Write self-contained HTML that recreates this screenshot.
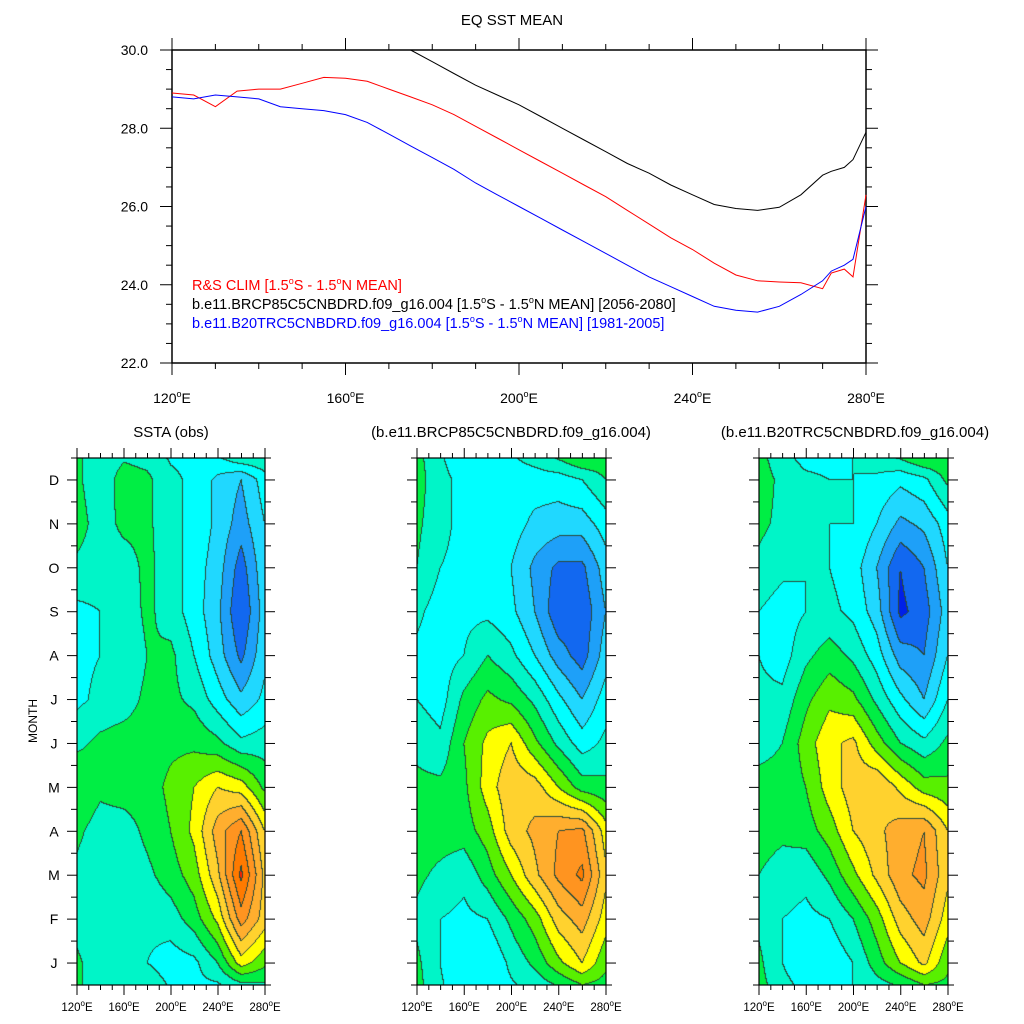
<!DOCTYPE html>
<html><head><meta charset="utf-8">
<style>
body{margin:0;background:#fff;}
#root{position:relative;width:1024px;height:1024px;overflow:hidden;font-family:"Liberation Sans",sans-serif;}
canvas{position:absolute;}
svg{position:absolute;left:0;top:0;}
</style></head>
<body>
<div id="root">
<canvas id="c0" style="left:77px;top:458px" width="188" height="527"></canvas>
<canvas id="c1" style="left:417px;top:458px" width="189" height="527"></canvas>
<canvas id="c2" style="left:759px;top:458px" width="189" height="527"></canvas>
<svg id="svg" width="1024" height="1024"></svg>
</div>
<script>
// ---- Top line chart data ----
const lons = [120,125,130,135,140,145,150,155,160,165,170,175,180,185,190,195,200,205,210,215,220,225,230,235,240,245,250,255,260,265,270,272,275,277,280];
const redSST = [28.9,28.85,28.55,28.95,29.0,29.0,29.15,29.3,29.28,29.2,29.0,28.8,28.6,28.35,28.05,27.75,27.45,27.15,26.85,26.55,26.25,25.9,25.55,25.2,24.9,24.55,24.25,24.1,24.07,24.05,23.9,24.3,24.4,24.2,26.3];
const blueSST = [28.8,28.75,28.85,28.8,28.75,28.55,28.5,28.45,28.35,28.15,27.85,27.55,27.25,26.95,26.6,26.3,26.0,25.7,25.4,25.1,24.8,24.5,24.2,23.95,23.7,23.45,23.35,23.3,23.45,23.75,24.1,24.35,24.5,24.65,26.0];
const blackSST = [null,null,null,null,null,null,null,null,null,null,null,30.03,29.7,29.4,29.1,28.85,28.6,28.3,28.0,27.7,27.4,27.1,26.85,26.55,26.3,26.05,25.95,25.9,25.98,26.3,26.8,26.9,27.0,27.2,27.9];
const yTicks = ["22.0","24.0","26.0","28.0","30.0"];
const xTickLons = [120,160,200,240,280];
const months = ["J","F","M","A","M","J","J","A","S","O","N","D"];
const gridLons = [120,140,160,180,200,220,240,260,280];
// rows Jan..Dec
const obsSSTA = [
[0.1,-0.3,-0.3,-0.4,-0.6,-0.5,0.0,1.0,0.5],
[-0.2,-0.3,-0.3,-0.3,-0.2,0.2,0.9,2.2,1.4],
[-0.1,-0.3,-0.3,-0.1,0.2,0.6,1.5,2.9,1.5],
[0.1,-0.2,-0.2,0.1,0.4,0.9,1.8,2.4,1.2],
[0.4,0.1,0.2,0.2,0.5,0.8,1.2,1.0,0.3],
[-0.1,0.1,0.2,0.2,0.3,0.3,0.1,-0.3,-0.2],
[-0.5,-0.3,-0.2,0.1,0.1,-0.1,-0.6,-1.1,-0.7],
[-0.5,-0.4,-0.4,0.0,0.1,-0.4,-1.0,-1.7,-0.9],
[-0.5,-0.4,-0.3,0.1,-0.2,-0.6,-1.1,-2.0,-1.0],
[-0.1,-0.2,-0.2,0.1,-0.2,-0.6,-1.0,-1.8,-0.9],
[0.2,-0.2,0.1,0.1,-0.3,-0.5,-0.9,-1.4,-0.8],
[0.1,-0.3,0.2,0.1,-0.3,-0.5,-0.9,-1.2,-0.6]];
const rcpSSTA = [
[0.1,-0.4,-0.8,-0.8,-0.3,0.1,0.7,1.2,0.5],
[-0.1,-0.4,-0.5,-0.4,0.1,0.6,1.4,1.8,1.0],
[0.1,-0.1,-0.3,0.2,0.8,1.5,2.1,2.5,1.3],
[0.2,0.2,0.2,0.6,1.4,1.7,2.0,2.1,1.0],
[0.1,0.1,0.3,1.0,1.5,1.4,0.8,0.2,0.1],
[-0.1,-0.3,0.4,0.9,1.2,0.5,-0.1,-0.6,-0.3],
[-0.4,-0.6,0.1,0.5,0.3,-0.1,-0.7,-1.2,-0.6],
[-0.5,-0.6,-0.4,0.0,-0.3,-0.8,-1.4,-1.8,-1.0],
[-0.3,-0.6,-0.5,-0.5,-0.7,-1.2,-1.9,-1.9,-1.2],
[0.0,-0.4,-0.5,-0.6,-0.8,-1.3,-1.7,-1.7,-1.0],
[0.1,-0.3,-0.5,-0.6,-0.6,-0.9,-1.0,-1.0,-0.6],
[0.2,-0.3,-0.5,-0.6,-0.6,-0.6,-0.6,-0.4,0.0]];
const histSSTA = [
[0.1,-0.4,-0.8,-0.7,-0.4,0.2,0.8,1.3,0.5],
[-0.1,-0.4,-0.5,-0.4,0.0,0.6,1.4,1.8,1.0],
[0.0,-0.2,-0.3,0.1,0.7,1.3,1.9,2.1,1.3],
[0.2,0.1,0.2,0.6,1.2,1.5,1.8,2.0,1.2],
[0.1,0.1,0.4,1.0,1.4,1.6,1.1,0.6,0.5],
[-0.1,0.0,0.6,1.1,1.3,0.6,0.0,-0.3,0.1],
[-0.3,-0.3,0.3,0.7,0.5,-0.1,-0.7,-1.2,-0.4],
[-0.4,-0.6,-0.1,0.2,-0.1,-0.6,-1.4,-1.6,-0.8],
[-0.4,-0.6,-0.4,-0.3,-0.5,-1.0,-2.1,-1.8,-1.0],
[-0.1,-0.3,-0.4,-0.4,-0.6,-1.2,-2.0,-1.6,-0.8],
[0.1,-0.1,-0.3,-0.4,-0.4,-0.8,-1.3,-1.1,-0.6],
[0.2,-0.1,-0.3,-0.4,-0.4,-0.5,-0.7,-0.5,0.1]];

const NS="http://www.w3.org/2000/svg";
const svg=document.getElementById('svg');
function mk(tag,attrs,parent){const e=document.createElementNS(NS,tag);for(const k in attrs)e.setAttribute(k,attrs[k]);(parent||svg).appendChild(e);return e;}
function txt(x,y,s,size,anchor,color,name){const t=mk('text',{x:x,y:y,'font-size':size,'text-anchor':anchor||'middle',fill:color||'#000'});t.innerHTML=s;return t;}
const deg='<tspan dy="-6" font-size="9">o</tspan><tspan dy="6">E</tspan>';
const degS='<tspan dy="-5" font-size="8">o</tspan><tspan dy="5">E</tspan>';

// ---- top chart ----
const L=172,R=866,T=50,B=363;
const xs=v=>L+(v-120)/160*(R-L);
const ys=v=>B-(v-22)/8*(B-T);
txt(512,25,"EQ SST MEAN",15,'middle','#000','top-title');
const fr=mk('rect',{x:L,y:T,width:R-L,height:B-T,fill:'none',stroke:'#000','stroke-width':1.5});

for(let v=22;v<=30.001;v+=0.5){const maj=Math.abs(v%2)<0.01;const y=ys(v);const len=maj?12:6;
 mk('line',{x1:L-len,y1:y,x2:L,y2:y,stroke:'#000','stroke-width':1});
 mk('line',{x1:R,y1:y,x2:R+len,y2:y,stroke:'#000','stroke-width':1});}
yTicks.forEach(s=>txt(L-24,ys(parseFloat(s))+5,s,14,'end','#000','y-tick-label'));
for(let v=120;v<=280;v+=10){const maj=v%40===0;const x=xs(v);const len=maj?12:6;
 mk('line',{x1:x,y1:B,x2:x,y2:B+len,stroke:'#000','stroke-width':1});
 mk('line',{x1:x,y1:T-len,x2:x,y2:T,stroke:'#000','stroke-width':1});}
xTickLons.forEach(v=>txt(xs(v),403,v+deg,14,'middle','#000','x-tick-label'));
function line(arr,color,name){let d='';let pen=false;arr.forEach((v,i)=>{if(v===null){pen=false;return;}const y=Math.max(T,ys(v));d+=(pen?'L':'M')+xs(lons[i]).toFixed(1)+','+y.toFixed(1);pen=true;});
 const p=mk('path',{d:d,fill:'none',stroke:color,'stroke-width':1});}
line(blackSST,'#000','rcp85-line');line(redSST,'#ff0000','obs-clim-line');line(blueSST,'#0000ff','b20tr-line');
const sup='<tspan dy="-6" font-size="9">o</tspan><tspan dy="6">';
txt(192,290,'R&amp;S CLIM [1.5'+sup+'S - 1.5</tspan>'+sup+'N MEAN]</tspan>',14.5,'start','#ff0000','legend-obs');
txt(192,309,'b.e11.BRCP85C5CNBDRD.f09_g16.004 [1.5'+sup+'S - 1.5</tspan>'+sup+'N MEAN] [2056-2080]</tspan>',14.5,'start','#000','legend-rcp85');
txt(192,328,'b.e11.B20TRC5CNBDRD.f09_g16.004 [1.5'+sup+'S - 1.5</tspan>'+sup+'N MEAN] [1981-2005]</tspan>',14.5,'start','#0000ff','legend-b20tr');

// ---- heatmaps ----
const levels=[-2.0,-1.6,-1.2,-0.8,-0.4,0,0.4,0.8,1.2,1.6,2.0,2.4,2.8];
const cols=['#0020e8','#1268f0','#1ea0f8','#20d8ff','#00ffff','#00f5c8','#00ee44','#58f000','#ffff00','#ffd22e','#ffae2e','#ff9420','#ff7a00','#ff2000'];
function levelOf(v){let i=0;while(i<levels.length&&v>=levels[i])i++;return i;}
function sample(g,lon,mf){let c=(lon-120)/20;c=Math.max(0,Math.min(8,c));const c0=Math.min(7,Math.floor(c)),cf=c-c0;
 let m0=Math.floor(mf);const f=mf-m0;const a=((m0%12)+12)%12,b=(a+1)%12;
 const va=g[a][c0]*(1-cf)+g[a][c0+1]*cf,vb=g[b][c0]*(1-cf)+g[b][c0+1]*cf;return va*(1-f)+vb*f;}
const panels=[{g:obsSSTA,c:'c0',L:77,W:188,title:'SSTA (obs)',tx:171,name:'obs'},
 {g:rcpSSTA,c:'c1',L:417,W:189,title:'(b.e11.BRCP85C5CNBDRD.f09_g16.004)',tx:511,name:'rcp85'},
 {g:histSSTA,c:'c2',L:759,W:189,title:'(b.e11.B20TRC5CNBDRD.f09_g16.004)',tx:855,name:'b20tr'}];
const PT=458,PH=527;
panels.forEach(p=>{
 const cv=document.getElementById(p.c);const ctx=cv.getContext('2d');
 const lv=[];
 for(let y=0;y<PH;y++){const f=1-(y+0.5)/PH;const mf=f*12-0.5;const row=[];
  for(let x=0;x<p.W;x++){const lon=120+(x+0.5)/p.W*160;row.push(levelOf(sample(p.g,lon,mf)));}lv.push(row);}
 for(let y=0;y<PH;y++)for(let x=0;x<p.W;x++){
  const i=lv[y][x];const edge=(x+1<p.W&&lv[y][x+1]!==i)||(y+1<PH&&lv[y+1][x]!==i);
  ctx.fillStyle=edge?'#2a4a3a':cols[i];ctx.fillRect(x,y,1,1);}
 const fr=mk('rect',{x:p.L,y:PT,width:p.W,height:PH,fill:'none',stroke:'#000','stroke-width':1.2});
 
 txt(p.tx,437,p.title,15,'middle','#000',p.name+'-title');
 for(let k=0;k<=24;k++){const y=PT+PH-k*PH/24;const len=(k%2===1)?10:6;
  mk('line',{x1:p.L-len,y1:y,x2:p.L,y2:y,stroke:'#000','stroke-width':1});
  mk('line',{x1:p.L+p.W,y1:y,x2:p.L+p.W+len,y2:y,stroke:'#000','stroke-width':1});}
 for(let v=120;v<=280;v+=10){const x=p.L+(v-120)/160*p.W;const len=v%40===0?10:5;
  mk('line',{x1:x,y1:PT+PH,x2:x,y2:PT+PH+len,stroke:'#000','stroke-width':1});
  mk('line',{x1:x,y1:PT-len,x2:x,y2:PT,stroke:'#000','stroke-width':1});}
 xTickLons.forEach(v=>txt(p.L+(v-120)/160*p.W,1011,v+degS,11.5,'middle','#000',p.name+'-x-tick-label'));
});
months.forEach((m,i)=>txt(54,PT+PH-(i+0.5)*PH/12+5,m,14,'middle','#000','month-label'));
const mt=txt(0,0,'MONTH',12,'middle','#000','y-axis-title');mt.setAttribute('transform','translate(37,721) rotate(-90)');
</script>
</body></html>
